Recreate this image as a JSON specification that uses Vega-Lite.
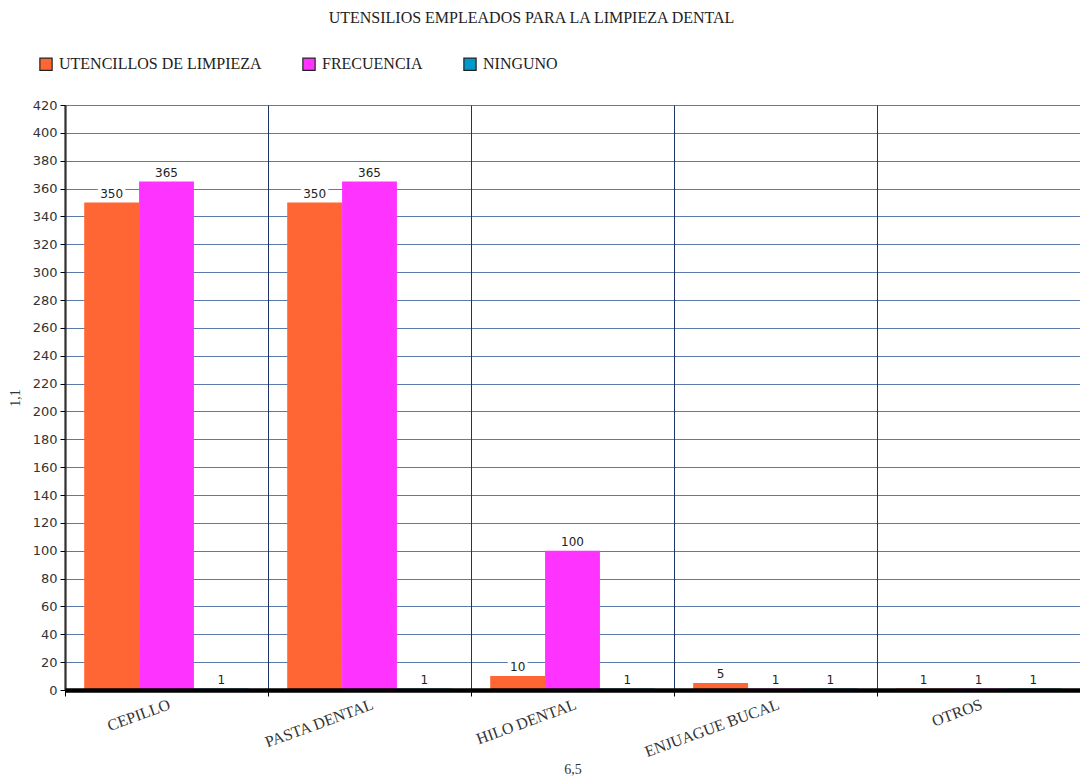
{
  "$schema": "https://vega.github.io/schema/vega-lite/v6.json",
  "width": 1015,
  "height": 585,
  "autosize": {"type": "none"},
  "padding": {"left": 65, "top": 105, "right": 0, "bottom": 93},
  "background": "white",
  "title": {
    "text": "UTENSILIOS EMPLEADOS PARA LA LIMPIEZA DENTAL",
    "font": "Liberation Serif",
    "fontSize": 16,
    "fontWeight": "normal",
    "color": "#222222",
    "anchor": "middle",
    "dx": -41,
    "offset": 30
  },
  "config": {
    "font": "Liberation Serif",
    "view": {"stroke": null}
  },
  "data": {
    "values": [
      {"categoria": "CEPILLO", "serie": "UTENCILLOS DE LIMPIEZA", "valor": 350},
      {"categoria": "CEPILLO", "serie": "FRECUENCIA", "valor": 365},
      {"categoria": "CEPILLO", "serie": "NINGUNO", "valor": 1},
      {"categoria": "PASTA DENTAL", "serie": "UTENCILLOS DE LIMPIEZA", "valor": 350},
      {"categoria": "PASTA DENTAL", "serie": "FRECUENCIA", "valor": 365},
      {"categoria": "PASTA DENTAL", "serie": "NINGUNO", "valor": 1},
      {"categoria": "HILO DENTAL", "serie": "UTENCILLOS DE LIMPIEZA", "valor": 10},
      {"categoria": "HILO DENTAL", "serie": "FRECUENCIA", "valor": 100},
      {"categoria": "HILO DENTAL", "serie": "NINGUNO", "valor": 1},
      {"categoria": "ENJUAGUE BUCAL", "serie": "UTENCILLOS DE LIMPIEZA", "valor": 5},
      {"categoria": "ENJUAGUE BUCAL", "serie": "FRECUENCIA", "valor": 1},
      {"categoria": "ENJUAGUE BUCAL", "serie": "NINGUNO", "valor": 1},
      {"categoria": "OTROS", "serie": "UTENCILLOS DE LIMPIEZA", "valor": 1},
      {"categoria": "OTROS", "serie": "FRECUENCIA", "valor": 1},
      {"categoria": "OTROS", "serie": "NINGUNO", "valor": 1}
    ]
  },
  "encoding": {
    "x": {
      "field": "categoria",
      "type": "nominal",
      "sort": null,
      "scale": {"paddingInner": 0, "paddingOuter": 0},
      "axis": {
        "zindex": 1,
        "title": "6,5",
        "titleFont": "Liberation Serif",
        "titleFontSize": 14,
        "titleFontWeight": "normal",
        "titleColor": "#333333",
        "titlePadding": 3,
        "labelAngle": -20,
        "labelAlign": "right",
        "labelBaseline": "top",
        "labelFont": "Liberation Serif",
        "labelFontSize": 16,
        "labelColor": "#333333",
        "labelPadding": 0,
        "labelLimit": 0,
        "tickBand": "extent",
        "ticks": true,
        "tickSize": 6,
        "tickColor": "#000000",
        "tickWidth": 1,
        "domainColor": "#000000",
        "domainWidth": 4.5,
        "grid": true,
        "gridColor": "#1a3566",
        "gridWidth": 1
      }
    },
    "xOffset": {
      "field": "serie",
      "type": "nominal",
      "sort": ["UTENCILLOS DE LIMPIEZA", "FRECUENCIA", "NINGUNO"],
      "scale": {"paddingInner": 0, "paddingOuter": 0.35}
    },
    "y": {
      "field": "valor",
      "type": "quantitative",
      "scale": {"domain": [0, 420], "nice": false},
      "axis": {
        "title": "1,1",
        "titleFont": "Liberation Serif",
        "titleFontSize": 14,
        "titleFontWeight": "normal",
        "titleColor": "#333333",
        "titlePadding": 10,
        "values": [0, 20, 40, 60, 80, 100, 120, 140, 160, 180, 200, 220, 240, 260, 280, 300, 320, 340, 360, 380, 400, 420],
        "labelFont": "DejaVu Sans",
        "labelFontSize": 13,
        "labelColor": "#333333",
        "labelPadding": 3,
        "tickSize": 5,
        "tickColor": "#000000",
        "domainColor": "#000000",
        "domainWidth": 2,
        "grid": true,
        "gridColor": "#5a7bab",
        "gridWidth": 1
      }
    }
  },
  "layer": [
    {
      "mark": {"type": "bar", "strokeWidth": 0},
      "encoding": {
        "color": {
          "field": "serie",
          "type": "nominal",
          "scale": {
            "domain": ["UTENCILLOS DE LIMPIEZA", "FRECUENCIA", "NINGUNO"],
            "range": ["#ff6633", "#ff33ff", "#0099cc"]
          },
          "legend": {
            "title": null,
            "orient": "none",
            "legendX": -27,
            "legendY": -49,
            "direction": "horizontal",
            "symbolType": "square",
            "symbolSize": 150,
            "symbolStrokeColor": "#222222",
            "symbolStrokeWidth": 1.2,
            "symbolOpacity": 1,
            "labelFont": "Liberation Serif",
            "labelFontSize": 16,
            "labelColor": "#222222",
            "labelOffset": 5,
            "labelLimit": 0,
            "columnPadding": 38
          }
        }
      }
    },
    {
      "mark": {
        "type": "text",
        "baseline": "bottom",
        "dy": -2,
        "font": "DejaVu Sans",
        "fontSize": 12,
        "stroke": "white",
        "strokeWidth": 7,
        "strokeJoin": "round"
      },
      "encoding": {"text": {"field": "valor", "type": "quantitative"}}
    },
    {
      "mark": {
        "type": "text",
        "baseline": "bottom",
        "dy": -2,
        "font": "DejaVu Sans",
        "fontSize": 12,
        "color": "#222222"
      },
      "encoding": {"text": {"field": "valor", "type": "quantitative"}}
    }
  ]
}
